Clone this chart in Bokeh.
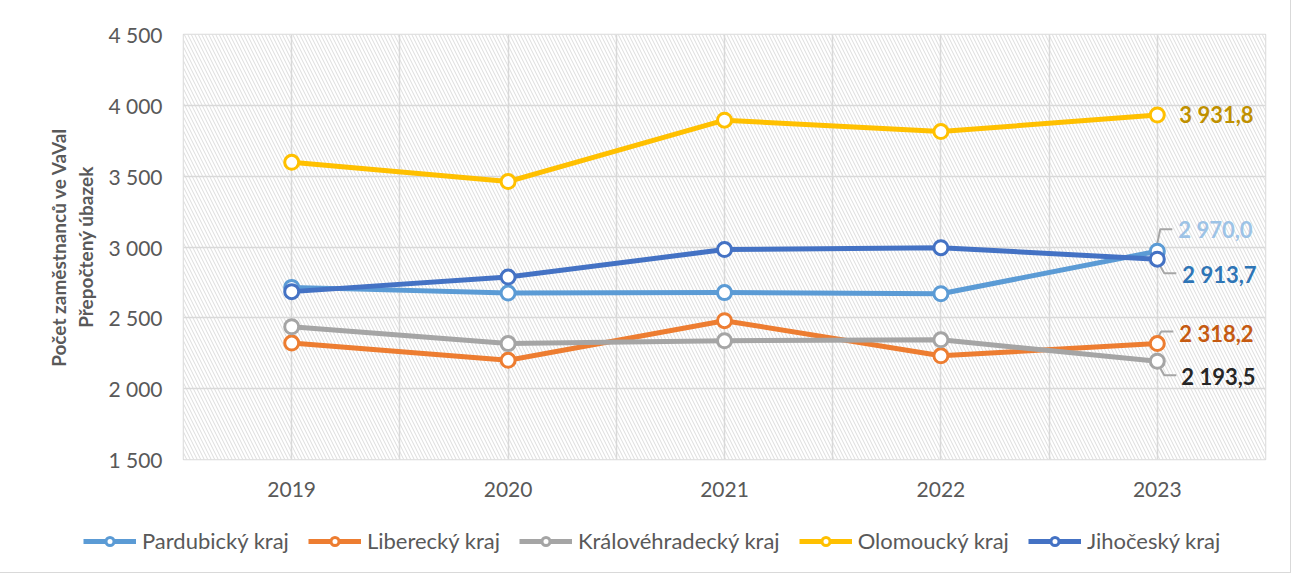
from bokeh.plotting import figure
from bokeh.layouts import column
from bokeh.models import Range1d, FixedTicker, Legend, LegendItem, BoxAnnotation
from bokeh.core.properties import value
from bokeh.embed import file_html
from bokeh.resources import INLINE

# ---------------- data ----------------
years = ["2019", "2020", "2021", "2022", "2023"]
pardubicky = [2715, 2675, 2678, 2670, 2970.0]
liberecky = [2322, 2200, 2480, 2232, 2318.2]
kralovehradecky = [2437, 2318, 2338, 2345, 2193.5]
olomoucky = [3598, 3462, 3895, 3815, 3931.8]
jihocesky = [2685, 2788, 2982, 2995, 2913.7]
series_names = ["Pardubický kraj", "Liberecký kraj", "Královéhradecký kraj",
                "Olomoucký kraj", "Jihočeský kraj"]
y_ticks = [1500, 2000, 2500, 3000, 3500, 4000, 4500]
y_title = "Počet zaměstnanců ve VaVaI\nPřepočtený úbazek"

series_values = [pardubicky, liberecky, kralovehradecky, olomoucky, jihocesky]
colors = ["#5B9BD5", "#ED7D31", "#A5A5A5", "#FFC000", "#4472C4"]
label_colors = ["#9DC3E6", "#C55A11", "#262626", "#BF9000", "#2E75B6"]

FONT = "Lato"
GREY_TXT = "#595959"
GRID = "#d9d9d9"

W = 1290
H_MAIN, H_LEG = 515, 57
ML, MR, MT, MB = 183, 25, 34, 56
frame_w = W - ML - MR
frame_h = H_MAIN - MT - MB

xs = list(range(len(years)))
p = figure(width=W, height=H_MAIN, output_backend="svg", toolbar_location=None,
           x_range=Range1d(-0.5, len(years) - 0.5),
           y_range=Range1d(y_ticks[0], y_ticks[-1]),
           min_border_left=ML, min_border_right=MR,
           min_border_top=MT, min_border_bottom=MB)
p.background_fill_color = "white"
p.border_fill_color = "white"
p.outline_line_color = GRID
p.outline_line_width = 1.5

# hatched plot-area background
bg = BoxAnnotation(fill_color="white", fill_alpha=1.0,
                   hatch_pattern="\\", hatch_color="#d6d6d6",
                   hatch_weight=1, hatch_scale=7, hatch_alpha=0.85,
                   line_color=None, level="image")
p.add_layout(bg)

# grids
half_ticks = [i / 2 - 0.5 for i in range(2 * len(years) + 1)]
p.xgrid.ticker = FixedTicker(ticks=half_ticks)
p.ygrid.ticker = FixedTicker(ticks=y_ticks)
for g in (p.xgrid, p.ygrid):
    g.grid_line_color = GRID
    g.grid_line_width = 1.5

# axes
p.xaxis.ticker = FixedTicker(ticks=xs)
p.xaxis.major_label_overrides = {i: y for i, y in zip(xs, years)}
p.yaxis.ticker = FixedTicker(ticks=y_ticks)
p.yaxis.major_label_overrides = {t: f"{t:,}".replace(",", " ") for t in y_ticks}
for ax in (p.xaxis, p.yaxis):
    ax.axis_line_color = None
    ax.major_tick_line_color = None
    ax.minor_tick_line_color = None
    ax.major_label_text_font = FONT
    ax.major_label_text_font_size = "21px"
    ax.major_label_text_color = GREY_TXT
p.yaxis.major_label_standoff = 15
p.xaxis.major_label_standoff = 16
p.yaxis.axis_label = y_title
p.yaxis.axis_label_text_font = FONT
p.yaxis.axis_label_text_font_size = "19px"
p.yaxis.axis_label_text_font_style = "bold"
p.yaxis.axis_label_text_color = GREY_TXT
p.yaxis.axis_label_standoff = 8

# pixel -> data conversion for leader lines
px_x = (len(years)) / frame_w
px_y = (y_ticks[-1] - y_ticks[0]) / frame_h

# label placement: (x_offset, y_offset) screen px; leader in px offsets (dx, dy up)
label_place = {
    0: (21, -22, [(0, 8), (3, 22), (15, 22)]),
    1: (22, -10, [(1, 7), (4, 12), (16, 12)]),
    2: (24, 15, [(3, -7), (7, -14), (19, -14)]),
    3: (22, 0, None),
    4: (25, 15, [(3, -7), (7, -14), (19, -14)]),
}

def fmt(v):
    return f"{v:,.1f}".replace(",", " ").replace(".", ",")

last = xs[-1]
for i, vals in enumerate(series_values):
    lead = label_place[i][2]
    if lead:
        lx = [last + dx * px_x for dx, dy in lead]
        ly = [vals[-1] + dy * px_y for dx, dy in lead]
        p.line(lx, ly, line_color="#a6a6a6", line_width=2)

for i, (name, vals, c) in enumerate(zip(series_names, series_values, colors)):
    p.line(xs, vals, line_color=c, line_width=5, line_join="round")
    p.scatter(xs, vals, size=14, marker="circle", fill_color="white",
              line_color=c, line_width=3)

for i, vals in enumerate(series_values):
    xo, yo, _ = label_place[i]
    p.text(x=[last], y=[vals[-1]], text=[fmt(vals[-1])], x_offset=xo, y_offset=yo,
           text_baseline="middle", text_align="left",
           text_font=value(FONT), text_font_style="bold", text_font_size="22px",
           text_color=label_colors[i])

# ---------------- legend strip ----------------
lf = figure(width=W, height=H_LEG, output_backend="svg", toolbar_location=None,
            x_range=Range1d(-0.5, len(years) - 0.5), y_range=Range1d(0, 1),
            x_axis_location=None, y_axis_location=None,
            min_border=0, min_border_left=0, min_border_right=0,
            min_border_top=0, min_border_bottom=0)
if "frame_align" in lf.properties():
    lf.frame_align = False
    p.frame_align = False
lf.grid.visible = False
lf.outline_line_color = None
lf.background_fill_color = "white"
lf.border_fill_color = "white"
items = []
for name, vals, c in zip(series_names, series_values, colors):
    # same series, drawn outside the strip's visible y range: only the legend glyph shows
    rl = lf.line(xs, vals, line_color=c, line_width=5)
    rm = lf.scatter(xs, vals, size=13, marker="circle", fill_color="white",
                    line_color=c, line_width=3)
    items.append(LegendItem(label=name, renderers=[rl, rm]))

legend = Legend(items=items, orientation="horizontal", location=(83, 18))
legend.border_line_color = None
legend.background_fill_alpha = 0
legend.label_text_font = FONT
legend.label_text_font_size = "22px"
legend.label_text_color = GREY_TXT
legend.glyph_width = 53
legend.glyph_height = 20
legend.label_standoff = 6
legend.spacing = 19
legend.padding = 5
legend.margin = 0
lf.add_layout(legend, "center")

layout = column(p, lf, spacing=0)
layout.styles = {"outline": "1px solid #d9d9d9"}

open("out.html", "w").write(file_html(layout, INLINE))
